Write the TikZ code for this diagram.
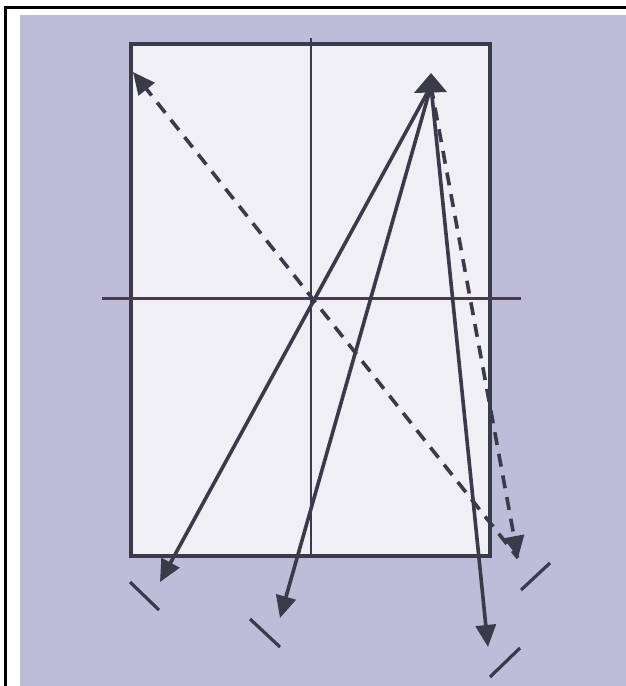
\documentclass[tikz,border=0pt]{standalone}
\usetikzlibrary{arrows.meta}
\definecolor{lav}{HTML}{BDBDDA}
\definecolor{tab}{HTML}{EFEFF5}
\definecolor{ink}{HTML}{3A3A4A}
\definecolor{midl}{HTML}{4A3A4E}
\tikzset{
  shot/.style={draw=ink, line width=3.6pt, -{Triangle[length=22pt,width=20pt]}},
  dshot/.style={shot, dash pattern=on 13pt off 9pt},
  tick/.style={draw=ink, line width=3.2pt},
}
\begin{document}
\begin{tikzpicture}[x=1pt,y=-1pt]
\useasboundingbox (0,0) rectangle (626,686);
\fill[white] (0,0) rectangle (626,686);
\fill[lav] (20,15) rectangle (626,686);
\draw[black, line width=3pt] (5,686) -- (5,7) -- (626,7);
% table
\draw[ink, line width=3.5pt, fill=tab] (131,44) rectangle (490,556);
\draw[ink, line width=2.4pt] (311,38) -- (311,556);
\draw[midl, line width=3pt] (102,298) -- (521,298);
% points
\coordinate (P) at (431,86);
\coordinate (C) at (518,558);
\coordinate (T1) at (160,582);
\coordinate (T2) at (280,618);
\coordinate (T3) at (488,647);
\coordinate (TL) at (133,72);
% shots
\draw[shot] (P) -- (T1);
\draw[shot] (P) -- (T2);
\draw[shot] (P) -- (T3);
\draw[dshot] (P) -- (C);
\draw[dshot, dash phase=4pt] (C) -- (TL);
% apex arrowhead
\fill[ink] (431,73) -- (447,92) -- (414,93) -- cycle;
% ticks
\draw[tick] (130,582) -- (159,610);
\draw[tick] (250,619) -- (280,647);
\draw[tick] (521,590) -- (550,563);
\draw[tick] (490,677) -- (520,648);
\end{tikzpicture}
\end{document}
